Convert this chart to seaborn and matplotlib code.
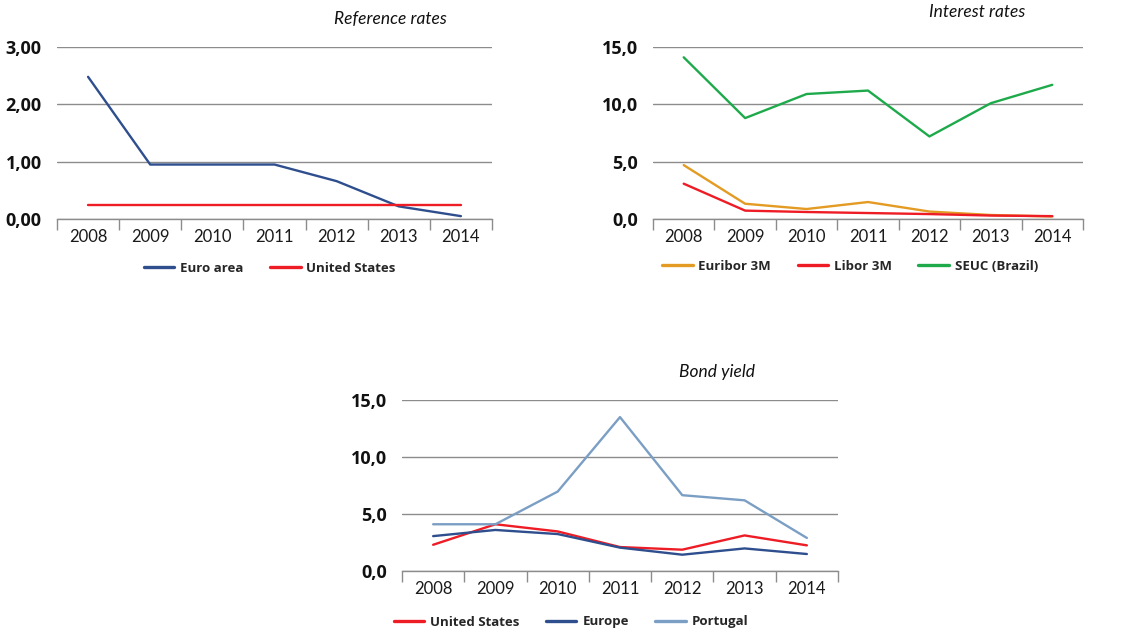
import matplotlib
matplotlib.use("Agg")
import matplotlib.pyplot as plt
import pandas as pd
import seaborn as sns

sns.set_theme(style="white")
plt.rcParams["font.family"] = ["Lato", "DejaVu Sans"]
BOLD_FAMILY = ["Open Sans", "DejaVu Sans"]

years = ["2008", "2009", "2010", "2011", "2012", "2013", "2014"]

# Reference rates (%)
euro_area_ref = [2.48, 0.95, 0.95, 0.95, 0.66, 0.22, 0.05]
united_states_ref = [0.25, 0.25, 0.25, 0.25, 0.25, 0.25, 0.25]

# Interest rates (%)
euribor_3m = [4.70, 1.33, 0.87, 1.48, 0.65, 0.35, 0.22]
libor_3m = [3.08, 0.73, 0.61, 0.52, 0.43, 0.30, 0.25]
seuc_brazil = [14.1, 8.8, 10.9, 11.2, 7.2, 10.1, 11.7]

# Bond yield (%)
united_states_bond = [2.30, 4.10, 3.47, 2.10, 1.87, 3.12, 2.25]
europe_bond = [3.06, 3.60, 3.24, 2.05, 1.43, 1.98, 1.49]
portugal_bond = [4.10, 4.10, 6.97, 13.5, 6.65, 6.20, 2.90]

NAVY = "#2E4E8E"
RED = "#EE1C25"
ORANGE = "#E39B23"
GREEN = "#1EAA4B"
STEEL = "#7B9FC4"
GRID = "#8C8C8C"

W, H = 1123, 633
fig = plt.figure(figsize=(W / 100, H / 100), dpi=100)


def add_axes_px(left, right, top, bottom):
    return fig.add_axes([left / W, 1 - bottom / H, (right - left) / W, (bottom - top) / H])


def draw_panel(ax, series, colors, ymax, ystep, decimals, title, title_xy,
               legend_xy):
    frames = []
    for name, values in series.items():
        frames.append(pd.DataFrame({"pos": range(len(years)), "value": values,
                                    "series": name}))
    df = pd.concat(frames, ignore_index=True)
    sns.lineplot(data=df, x="pos", y="value", hue="series",
                 hue_order=list(series.keys()), palette=colors,
                 linewidth=1.7, ax=ax, legend=True)

    ax.set_xlim(-0.5, len(years) - 0.5)
    ax.set_ylim(0, ymax)
    ax.set_xlabel("")
    ax.set_ylabel("")

    # category labels centred, separator ticks between categories
    ax.set_xticks(range(len(years)))
    ax.set_xticklabels(years)
    ax.set_xticks([x - 0.5 for x in range(len(years) + 1)], minor=True)
    ax.tick_params(axis="x", which="major", length=0, pad=7, labelsize=12,
                   labelcolor="#1a1a1a")
    ax.tick_params(axis="x", which="minor", length=8, width=1, color=GRID,
                   direction="out", bottom=True)

    yticks = [i * ystep for i in range(int(round(ymax / ystep)) + 1)]
    ylabels = [f"{v:.{decimals}f}".replace(".", ",") for v in yticks]
    ax.set_yticks(yticks, ylabels, fontweight="bold", family=BOLD_FAMILY)
    ax.tick_params(axis="y", length=0, pad=11, labelsize=13,
                   labelcolor="#111111")

    ax.grid(axis="y", color=GRID, linewidth=1)
    ax.set_axisbelow(True)
    for side in ("left", "right", "top"):
        ax.spines[side].set_visible(False)
    ax.spines["bottom"].set_color(GRID)
    ax.spines["bottom"].set_linewidth(1)

    handles, labels = ax.get_legend_handles_labels()
    leg = ax.legend(handles, labels, ncol=len(labels), frameon=False,
                    loc="center",
                    bbox_to_anchor=(legend_xy[0] / W, 1 - legend_xy[1] / H),
                    bbox_transform=fig.transFigure, handlelength=2.3,
                    handletextpad=0.45, columnspacing=2.0,
                    prop={"weight": "bold", "size": 9.5,
                          "family": BOLD_FAMILY})
    for line in leg.get_lines():
        line.set_linewidth(2.4)

    fig.text(title_xy[0] / W, 1 - title_xy[1] / H, title, ha="center",
             va="center", style="italic", fontsize=12.5, color="#111111")


ax1 = add_axes_px(57, 492, 47, 219)
draw_panel(ax1,
           {"Euro area": euro_area_ref, "United States": united_states_ref},
           [NAVY, RED], 3, 1, 2, "Reference rates", (390, 19), (270, 268))

ax2 = add_axes_px(653, 1083, 47, 219)
draw_panel(ax2,
           {"Euribor 3M": euribor_3m, "Libor 3M": libor_3m,
            "SEUC (Brazil)": seuc_brazil},
           [ORANGE, RED, GREEN], 15, 5, 1, "Interest rates", (977, 12), (850, 266))

ax3 = add_axes_px(402, 838, 400, 571)
draw_panel(ax3,
           {"United States": united_states_bond, "Europe": europe_bond,
            "Portugal": portugal_bond},
           [RED, NAVY, STEEL], 15, 5, 1, "Bond yield", (717, 372), (571, 622))

fig.savefig("out.png", dpi=100, facecolor="white")
